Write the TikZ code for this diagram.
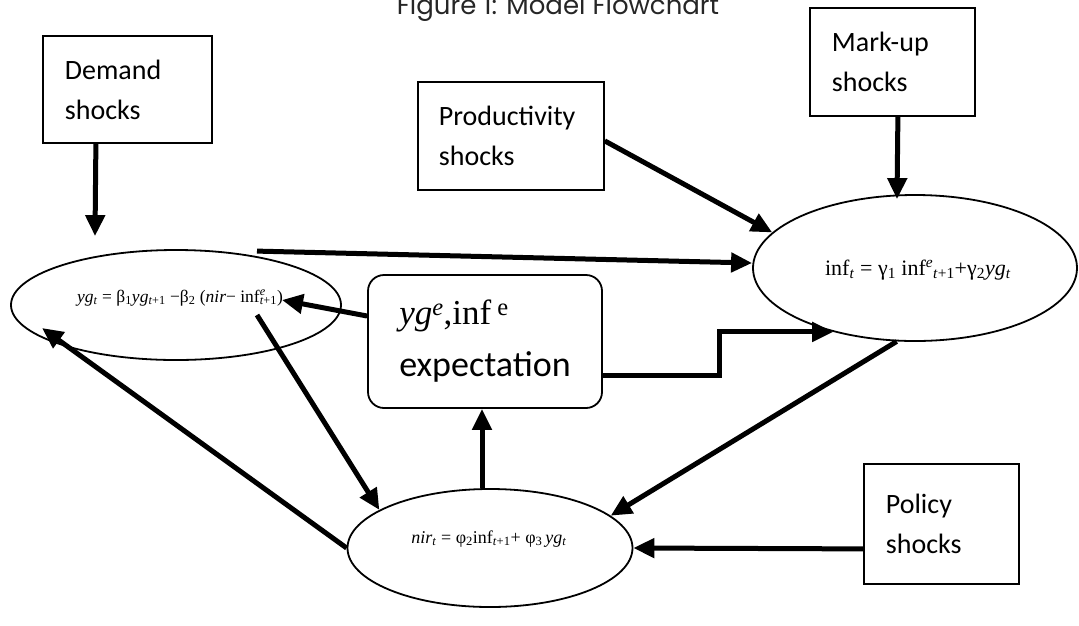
\documentclass[tikz,border=0pt]{standalone}
\usepackage{fontspec}
\setmainfont{Carlito}
\newfontfamily\tmfont{Liberation Serif}
\newfontfamily\titlefont{Poppins}
\usetikzlibrary{shapes.geometric,arrows.meta}
\newcommand\sbs[1]{\textsubscript{#1}}
\newcommand\sps[1]{\textsuperscript{#1}}
\newcommand\supsub[2]{\rlap{\textsuperscript{#1}}\textsubscript{#2}}
\begin{document}
\begin{tikzpicture}[x=1pt,y=-1pt,
  shockbox/.style={draw, line width=1.8pt, align=left, anchor=north west,
    inner xsep=22pt, inner ysep=0pt, font=\fontsize{28}{40}\selectfont},
  oval/.style={draw, ellipse, line width=1.8pt, inner sep=0pt},
  eq/.style={anchor=base, inner sep=0pt},
  arr/.style={line width=5pt, -{Triangle[length=21pt,width=19pt]}},
]
\useasboundingbox (0,0) rectangle (1079,625);
\node[anchor=base, inner sep=0pt, text=black!85, font=\titlefont\fontsize{26}{26}\selectfont] (title) at (558,14) {Figure 1: Model Flowchart};

% boxes
\node[shockbox, minimum width=169pt, minimum height=107pt, text width=125pt] (demand) at (42,35) {Demand\\shocks};
\node[shockbox, minimum width=186pt, minimum height=108pt, text width=144pt, inner xsep=21pt] (prod) at (417,81) {Productivity\\shocks};
\node[shockbox, minimum width=165pt, minimum height=108pt, text width=121pt] (markup) at (809,7) {Mark-up\\shocks};
\node[shockbox, minimum width=155pt, minimum height=120pt, text width=111pt] (policy) at (863,463) {Policy\\shocks};

% ellipses
\node[oval, minimum width=330pt, minimum height=110pt] (yg) at (176,305) {};
\node[oval, minimum width=324pt, minimum height=146pt] (inf) at (915,268) {};
\node[oval, minimum width=285pt, minimum height=118pt] (nir) at (490,548) {};

% expectation box
\node[draw, line width=1.8pt, rounded corners=16pt, minimum width=234pt, minimum height=133pt,
  align=left, font=\fontsize{36}{52}\selectfont] (exp) at (485,341.5)
  {{\tmfont\fontsize{35}{35}\selectfont\itshape yg\sps{e}\upshape,inf\sps{ e}}\\expectation};

% equations
\node[eq, font=\tmfont\fontsize{17.5}{17.5}\selectfont] (ygeq) at (180,302)
  {\textit{yg}\sbs{\textit{t}} = β\sbs{1}\textit{yg}\sbs{\textit{t}+1} −β\sbs{2} (\textit{nir}− inf\supsub{\textit{e}}{\textit{t}+1})};
\node[eq, font=\tmfont\fontsize{22}{22}\selectfont] (infeq) at (918,275)
  {inf\sbs{\textit{t}} = γ\sbs{1} inf\sps{\textit{e}}\sbs{\textit{t}+1}+γ\sbs{2}\textit{yg}\sbs{\textit{t}}};
\node[eq, font=\tmfont\fontsize{18}{18}\selectfont] (nireq) at (489,543)
  {\textit{nir}\sbs{\textit{t}} = φ\sbs{2}inf\sbs{\textit{t}+1}+ φ\sbs{3}\,\textit{yg}\sbs{\textit{t}}};

% connectors
\draw[arr] ([xshift=-31.5pt]demand.south) -- ([xshift=-81pt,yshift=13pt]yg.north);
\draw[arr] ([xshift=81pt,yshift=-2pt]yg.north) -- ([yshift=5pt]inf.west);
\draw[arr] ([yshift=-5pt]prod.east) -- (inf.166.6);
\draw[arr] ([xshift=5.5pt]markup.south) -- ([xshift=-18pt,yshift=-5pt]inf.north);
\draw[arr] ([yshift=25.5pt]exp.west) -- ([xshift=106pt,yshift=5pt]yg.center);
\draw[arr] ([xshift=81pt,yshift=-10pt]yg.center) -- (nir.161.2);
\draw[arr] (nir.west) -- ([xshift=-134pt,yshift=-23pt]yg.center);
\draw[arr] ([xshift=-8pt]nir.north) -- ([xshift=-3pt]exp.south);
\draw[arr] ([yshift=-33.5pt]exp.east) -- ++(117,0) |- (inf.218);
\draw[arr] (inf.256) -- (nir.15);
\draw[arr] ([yshift=-25pt]policy.west) -- (nir.east);
\end{tikzpicture}
\end{document}
